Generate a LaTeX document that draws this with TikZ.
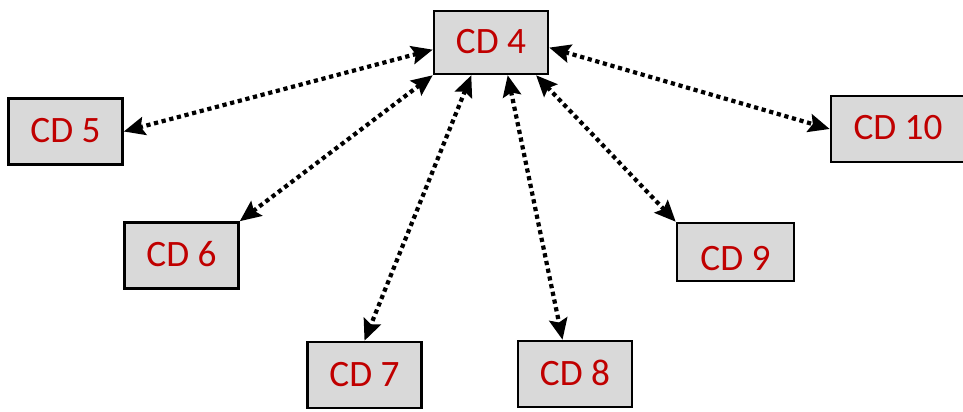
\documentclass[tikz,border=0pt]{standalone}
\usepackage{fontspec}
\setmainfont{Carlito}
\usetikzlibrary{arrows.meta, shadows}
\definecolor{cdred}{HTML}{C00000}
\definecolor{cdgray}{HTML}{D9D9D9}
\begin{document}
\begin{tikzpicture}[x=0.025cm, y=-0.025cm,
        cdbox/.style={draw, line width=1.8pt, fill=cdgray, text=cdred, inner sep=0pt,
                      minimum width=2.85cm, minimum height=1.65cm,
                      text height=0.6cm, text depth=0.05cm,
                      font=\fontsize{26.5}{30}\selectfont,
                      drop shadow={opacity=.25, shadow xshift=.5pt, shadow yshift=-1pt}},
        link/.style={line width=3pt, dash pattern=on 3pt off 2.6pt,
                     {Stealth[length=15pt, width=13pt, inset=2.5pt]}-{Stealth[length=15pt, width=13pt, inset=2.5pt]}}]
    \useasboundingbox (0,0) rectangle (963,412);
    % central box
    \node[cdbox, minimum height=1.575cm] (cd4) at (491,42.5) {CD 4};
    % outer boxes
    \node[cdbox] (cd5) at (65.5,131.5) {CD 5};
    \node[cdbox] (cd6) at (181.5,255.5) {CD 6};
    \node[cdbox] (cd7) at (364.5,375) {CD 7};
    \node[cdbox] (cd8) at (575,374) {CD 8};
    \node[cdbox, minimum width=2.925cm, minimum height=1.45cm, text height=0.98cm] (cd9) at (735.5,252) {CD 9};
    \node[cdbox, minimum width=3.35cm] (cd10) at (898,129) {CD 10};
    % dotted links
    \draw[link] (cd4.187) -- (cd5.east);
    \draw[link] (cd4.south west) -- (cd6.north east);
    \draw[link] (cd4.239) -- (cd7.north);
    \draw[link] (cd4.297) -- (cd8.110);
    \draw[link] (cd4.324) -- (cd9.north west);
    \draw[link] (cd4.355) -- (cd10.west);
\end{tikzpicture}
\end{document}
